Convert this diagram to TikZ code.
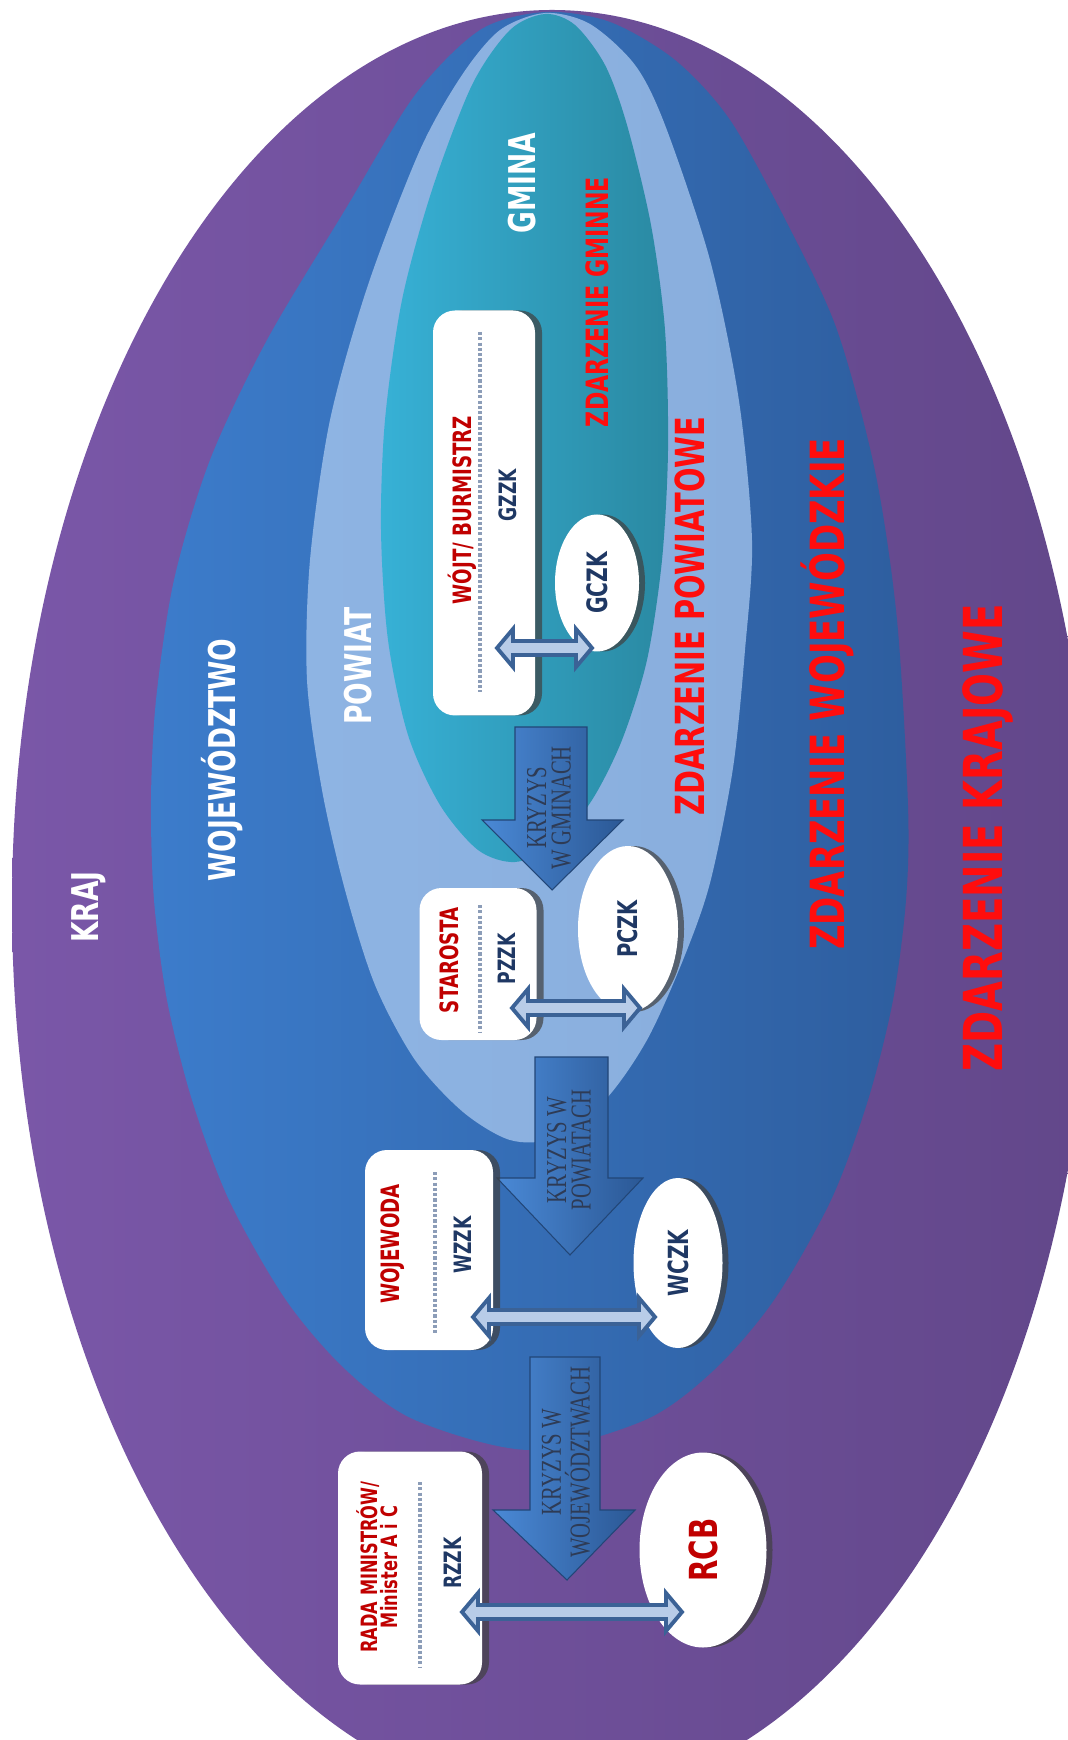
\documentclass[tikz,border=0pt]{standalone}
\usepackage{fontspec}
\setmainfont{Liberation Serif}[FakeStretch=0.72]
\newfontfamily\zdfont{DejaVu Sans}[FakeStretch=0.72]
\usetikzlibrary{shapes.geometric,shadows,calc}
\definecolor{kraj1}{HTML}{7A57A8}
\definecolor{kraj2}{HTML}{62478A}
\definecolor{woj1}{HTML}{3C7CCB}
\definecolor{woj2}{HTML}{2E5E9F}
\definecolor{pow1}{HTML}{8EB4E3}
\definecolor{pow2}{HTML}{89AEDD}
\definecolor{gmi1}{HTML}{37B1D6}
\definecolor{gmi2}{HTML}{2A89A2}
\definecolor{zdred}{HTML}{FF0D0D}
\definecolor{boxred}{HTML}{C00000}
\definecolor{navy}{HTML}{1F3864}
\definecolor{arrline}{HTML}{3B6296}
\definecolor{arrfill}{HTML}{B8CCE8}
\definecolor{dashc}{HTML}{8C9DB8}
\definecolor{kr1}{HTML}{4A89D6}
\definecolor{kr2}{HTML}{2B5895}
\definecolor{krtext}{HTML}{2E3B55}
\tikzset{
  poziom/.style={font=\zdfont\bfseries\fontsize{10.5}{12}\selectfont, text=white, rotate=90, inner sep=0pt},
  zdarz/.style={font=\zdfont\bfseries\fontsize{#1}{#1}\selectfont, text=zdred, rotate=90, inner sep=0pt},
  urzad/.style={fill=white, rounded corners=2.2mm, drop shadow={shadow xshift=0.7mm, shadow yshift=0mm, fill=black!75, opacity=0.7}},
  centrum/.style={ellipse, fill=white, inner sep=0pt, drop shadow={shadow xshift=0.6mm, shadow yshift=0mm, fill=black!75, opacity=0.7}},
  tytul/.style={font=\zdfont\bfseries\fontsize{7.2}{6.4}\selectfont, text=boxred, rotate=90, align=center, inner sep=0pt},
  kod/.style={font=\zdfont\bfseries\fontsize{6.8}{7}\selectfont, text=navy, rotate=90, inner sep=0pt},
  kreska/.style={draw=dashc, line width=1.3pt, dash pattern=on 0.9pt off 0.6pt},
  dwu/.style={draw=arrline, fill=arrfill, line width=1.1pt, line join=miter},
  krstr/.style={left color=kr1, right color=kr2, draw=kr2!80!black, line width=0.3pt},
  krtekst/.style={font=\fontsize{8.2}{7}\selectfont, text=krtext, rotate=90, align=center, inner sep=0pt}
}
% block double arrow between two named tips
\newcommand{\dwustr}[2]{%
  \draw[dwu] (#1) -- ($(#1)+(16,-19)$) -- ($(#1)+(16,-7)$) -- ($(#2)+(-16,-7)$) -- ($(#2)+(-16,-19)$)
    -- (#2) -- ($(#2)+(-16,19)$) -- ($(#2)+(-16,7)$) -- ($(#1)+(16,7)$) -- ($(#1)+(16,19)$) -- cycle;}
\begin{document}
\begin{tikzpicture}[x=0.1mm,y=-0.1mm]
	\useasboundingbox (0,0) rectangle (1068,1740);
	\fill[white] (0,0) rectangle (1068,1740);
	\begin{scope}
	\clip (0,0) rectangle (1068,1740);
	% kraj
	\shade[left color=kraj1,right color=kraj2] (552,905) ellipse [x radius=540, y radius=895];
	% wojewodztwo
	\shade[left color=woj1,right color=woj2] plot[smooth cycle] coordinates {(545,12) (610,22) (675,60) (730,120) (788,225) (837,330) (875,471) (897,620) (908,806) (906,900) (893,1000) (868,1100) (831,1200) (774,1300) (714,1370) (645,1420) (530,1450) (415,1420) (346,1370) (286,1300) (229,1200) (192,1100) (167,1000) (154,900) (151,800) (156,700) (174,580) (210,460) (267,340) (345,210) (415,95) (480,30)};
	% powiat
	\shade[left color=pow1,right color=pow2] plot[smooth cycle] coordinates {(545,13) (590,24) (635,65) (665,125) (710,260) (739,401) (752,541) (745,650) (733,768) (710,883) (683,960) (647,1040) (605,1100) (553,1138) (510,1140) (463,1112) (415,1060) (375,985) (345,890) (322,790) (307,680) (310,560) (330,420) (368,285) (420,150) (462,75) (500,30)};
	% gmina
	\shade[left color=gmi1,right color=gmi2] plot[smooth cycle] coordinates {(545,14) (575,25) (605,65) (627,125) (651,225) (665,330) (668,450) (662,560) (647,660) (622,740) (592,800) (555,845) (515,862) (478,850) (440,805) (408,735) (388,640) (381,530) (385,420) (402,300) (432,190) (472,85) (510,30)};
	\end{scope}
	% poziomy
	\node[poziom] (kraj) at (89,907) {KRAJ};
	\node[poziom] (woj) at (222,760) {WOJEWÓDZTWO};
	\node[poziom] (pow) at (358,666) {POWIAT};
	\node[poziom] (gmi) at (522,183) {GMINA};
	\node[zdarz=8.75] (zgmi) at (597,302) {ZDARZENIE GMINNE};
	\node[zdarz=11.4] (zpow) at (690,616) {ZDARZENIE POWIATOWE};
	\node[zdarz=13.4] (zwoj) at (827,694) {ZDARZENIE WOJEWÓDZKIE};
	\node[zdarz=15.3] (zkraj) at (988,838) {ZDARZENIE KRAJOWE};
	% kryzysy
	\draw[krstr] (515,727) -- (587,727) -- (587,820) -- (623,820) -- (552,890) -- (482,820) -- (515,820) -- cycle;
	\node[krtekst] (kgmi) at (549,808) {KRYZYS\\W GMINACH};
	\draw[krstr] (535,1057) -- (608,1057) -- (608,1178) -- (643,1178) -- (570,1255) -- (497,1178) -- (535,1178) -- cycle;
	\node[krtekst] (kpow) at (569,1150) {KRYZYS W\\POWIATACH};
	\draw[krstr] (530,1357) -- (600,1357) -- (600,1510) -- (635,1510) -- (567,1580) -- (493,1510) -- (530,1510) -- cycle;
	\node[krtekst] (kwoj) at (566,1462) {KRYZYS W\\WOJEWÓDZTWACH};
	% gmina
	\node[urzad, minimum width=10.2mm, minimum height=40.5mm] (wojt) at (484,513) {};
	\node[tytul] (wojtt) at (462,510) {WÓJT/ BURMISTRZ};
	\draw[kreska] (480,332) -- (480,692);
	\node[kod] (gzzk) at (508,495) {GZZK};
	\node[centrum, minimum width=8.4mm, minimum height=13.7mm] (gczk) at (597,583) {\zdfont\bfseries\fontsize{8}{8}\selectfont\color{navy}\rotatebox{90}{GCZK}};
	\coordinate (g1) at (497,648);
	\coordinate (g2) at (592,648);
	\dwustr{g1}{g2}
	% powiat
	\node[urzad, minimum width=11.7mm, minimum height=15.2mm] (staro) at (478,964) {};
	\node[tytul] (starot) at (449,960) {STAROSTA};
	\draw[kreska] (480,905) -- (480,1033);
	\node[kod] (pzzk) at (507,959) {PZZK};
	\node[centrum, minimum width=10mm, minimum height=16.6mm] (pczk) at (628,929) {\zdfont\bfseries\fontsize{7.7}{8}\selectfont\color{navy}\rotatebox{90}{PCZK}};
	\coordinate (p1) at (512,1008);
	\coordinate (p2) at (640,1008);
	\dwustr{p1}{p2}
	% wojewodztwo
	\node[urzad, minimum width=12.8mm, minimum height=20mm] (wojew) at (429,1250) {};
	\node[tytul] (wojewt) at (393,1244) {WOJEWODA};
	\draw[kreska] (435,1172) -- (435,1333);
	\node[kod] (wzzk) at (463,1245) {WZZK};
	\node[centrum, minimum width=8.9mm, minimum height=17mm] (wczk) at (678,1263) {\zdfont\bfseries\fontsize{7.9}{8}\selectfont\color{navy}\rotatebox{90}{WCZK}};
	\coordinate (w1) at (473,1317);
	\coordinate (w2) at (655,1317);
	\dwustr{w1}{w2}
	% kraj
	\node[urzad, minimum width=14.4mm, minimum height=23.3mm] (rada) at (410,1568) {};
	\node[tytul, font=\zdfont\bfseries\fontsize{6.4}{5.8}\selectfont] (radat) at (377,1567) {RADA MINISTRÓW/\\Minister A i C};
	\draw[kreska] (420,1482) -- (420,1667);
	\node[kod] (rzzk) at (453,1563) {RZZK};
	\node[centrum, minimum width=12.7mm, minimum height=19.5mm] (rcb) at (703,1550) {\zdfont\bfseries\fontsize{11}{11}\selectfont\color{boxred}\rotatebox{90}{RCB}};
	\coordinate (r1) at (462,1612);
	\coordinate (r2) at (682,1612);
	\dwustr{r1}{r2}
\end{tikzpicture}
\end{document}
